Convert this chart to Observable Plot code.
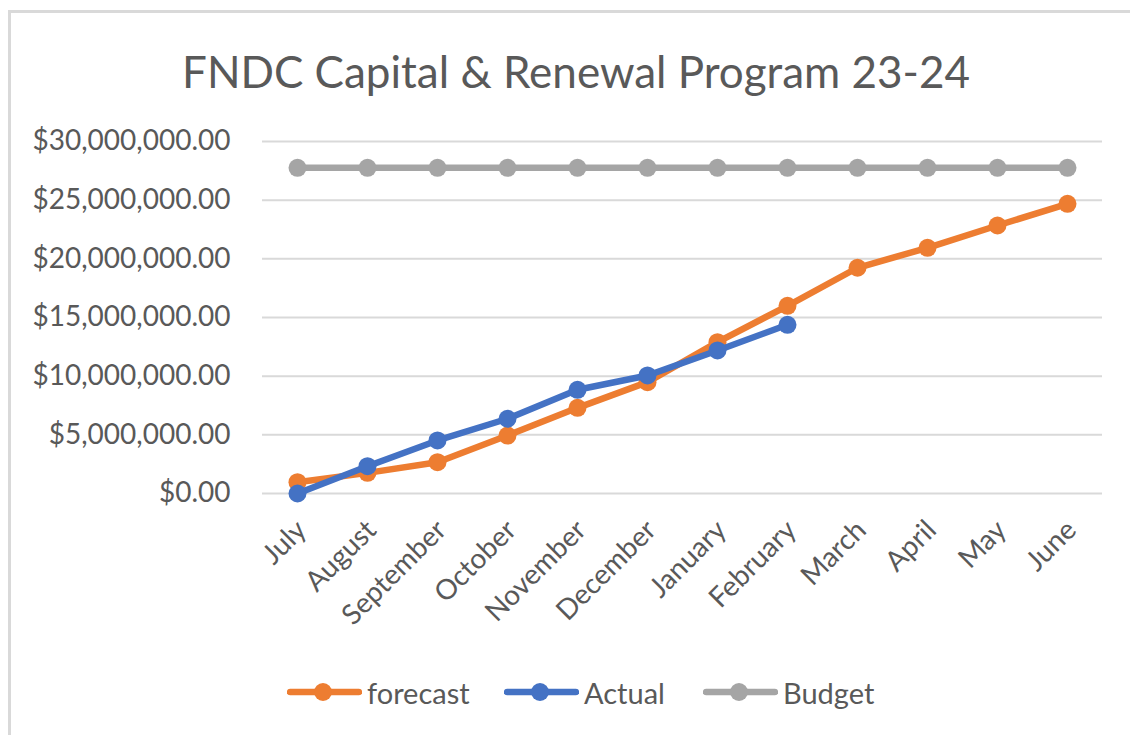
<!DOCTYPE html>
<html>
<head>
<meta charset="utf-8">
<script src="https://cdn.jsdelivr.net/npm/d3@7"></script>
<script src="https://cdn.jsdelivr.net/npm/@observablehq/plot@0.6"></script>
<style>
  html, body { margin: 0; padding: 0; background: #fff; overflow: hidden; }
  #wrap { position: relative; width: 1130px; height: 735px; overflow: hidden; font-family: Lato, "Open Sans", sans-serif; color: #595959; }
  #frame { position: absolute; left: 8px; top: 10px; width: 1300px; height: 900px; border: 3px solid #d9d9d9; box-sizing: border-box; }
  #title { position: absolute; left: 11px; width: 1130px; top: 43px; text-align: center; font-size: 44px; line-height: 56px; color: #595959; }
  #chart { position: absolute; left: 0; top: 110px; }
  #legend { position: absolute; top: 672px; left: 0; width: 1130px; height: 40px; display: flex; align-items: center; }
  .item { position: absolute; display: flex; align-items: center; font-size: 29px; color: #595959; }
  .item svg { display: block; margin-right: 5px; }
</style>
</head>
<body>
<div id="wrap">
  <div id="frame"></div>
  <div id="title">FNDC Capital &amp; Renewal Program 23-24</div>
  <div id="chart"></div>
  <div id="legend"></div>
</div>
<script>
const months = ["July", "August", "September", "October", "November", "December", "January", "February", "March", "April", "May", "June"];
const forecast = [960000, 1760000, 2670000, 4940000, 7300000, 9490000, 12900000, 16000000, 19240000, 20940000, 22840000, 24690000];
const actual = [0, 2330000, 4520000, 6370000, 8840000, 10060000, 12190000, 14380000];
const budget = [27760000, 27760000, 27760000, 27760000, 27760000, 27760000, 27760000, 27760000, 27760000, 27760000, 27760000, 27760000];
const yTicks = [0, 5000000, 10000000, 15000000, 20000000, 25000000, 30000000];

const seriesNames = ["forecast", "Actual", "Budget"];
const seriesColors = ["#ED7D31", "#4472C4", "#A5A5A5"];

const rows = [];
forecast.forEach((v, i) => rows.push({series: "forecast", month: months[i], value: v}));
actual.forEach((v, i) => rows.push({series: "Actual", month: months[i], value: v}));
budget.forEach((v, i) => rows.push({series: "Budget", month: months[i], value: v}));

const fmt = d3.format("$,.2f");

const plot = Plot.plot({
  width: 1130,
  height: 560,
  marginLeft: 262,
  marginRight: 28,
  marginTop: 31,
  marginBottom: 177,
  style: { fontFamily: "Lato, 'Open Sans', sans-serif", color: "#595959", background: "transparent", overflow: "visible" },
  x: { type: "point", domain: months, padding: 0.5, label: null },
  y: { domain: [0, 30000000], label: null },
  color: { domain: seriesNames, range: seriesColors },
  marks: [
    Plot.gridY(yTicks, { stroke: "#d9d9d9", strokeOpacity: 1, strokeWidth: 2 }),
    Plot.axisY({ ticks: yTicks, tickFormat: fmt, tickSize: 0, tickPadding: 32, fontSize: 28, fill: "#595959", label: null }),
    Plot.axisX({ tickSize: 0, tickRotate: -45, tickPadding: 32, dx: 4, fontSize: 28, fill: "#595959", label: null }),
    Plot.line(rows.filter(d => d.series === "forecast"), { x: "month", y: "value", stroke: "#ED7D31", strokeWidth: 6.5 }),
    Plot.dot(rows.filter(d => d.series === "forecast"), { x: "month", y: "value", fill: "#ED7D31", r: 9 }),
    Plot.line(rows.filter(d => d.series === "Actual"), { x: "month", y: "value", stroke: "#4472C4", strokeWidth: 6.5 }),
    Plot.dot(rows.filter(d => d.series === "Actual"), { x: "month", y: "value", fill: "#4472C4", r: 9 }),
    Plot.line(rows.filter(d => d.series === "Budget"), { x: "month", y: "value", stroke: "#A5A5A5", strokeWidth: 6.5 }),
    Plot.dot(rows.filter(d => d.series === "Budget"), { x: "month", y: "value", fill: "#A5A5A5", r: 9 })
  ]
});
document.getElementById("chart").appendChild(plot);

// legend
const legend = document.getElementById("legend");
const legendX = [287, 504, 703];
seriesNames.forEach((name, i) => {
  const item = document.createElement("div");
  item.className = "item";
  item.style.left = legendX[i] + "px";
  const ns = "http://www.w3.org/2000/svg";
  const svg = document.createElementNS(ns, "svg");
  svg.setAttribute("width", 75);
  svg.setAttribute("height", 24);
  const line = document.createElementNS(ns, "line");
  line.setAttribute("x1", 3); line.setAttribute("x2", 72);
  line.setAttribute("y1", 12); line.setAttribute("y2", 12);
  line.setAttribute("stroke", seriesColors[i]);
  line.setAttribute("stroke-width", 6.5);
  line.setAttribute("stroke-linecap", "round");
  const c = document.createElementNS(ns, "circle");
  c.setAttribute("cx", 36); c.setAttribute("cy", 12); c.setAttribute("r", 9);
  c.setAttribute("fill", seriesColors[i]);
  svg.appendChild(line); svg.appendChild(c);
  const span = document.createElement("span");
  span.textContent = name;
  item.appendChild(svg); item.appendChild(span);
  legend.appendChild(item);
});
</script>
</body>
</html>
